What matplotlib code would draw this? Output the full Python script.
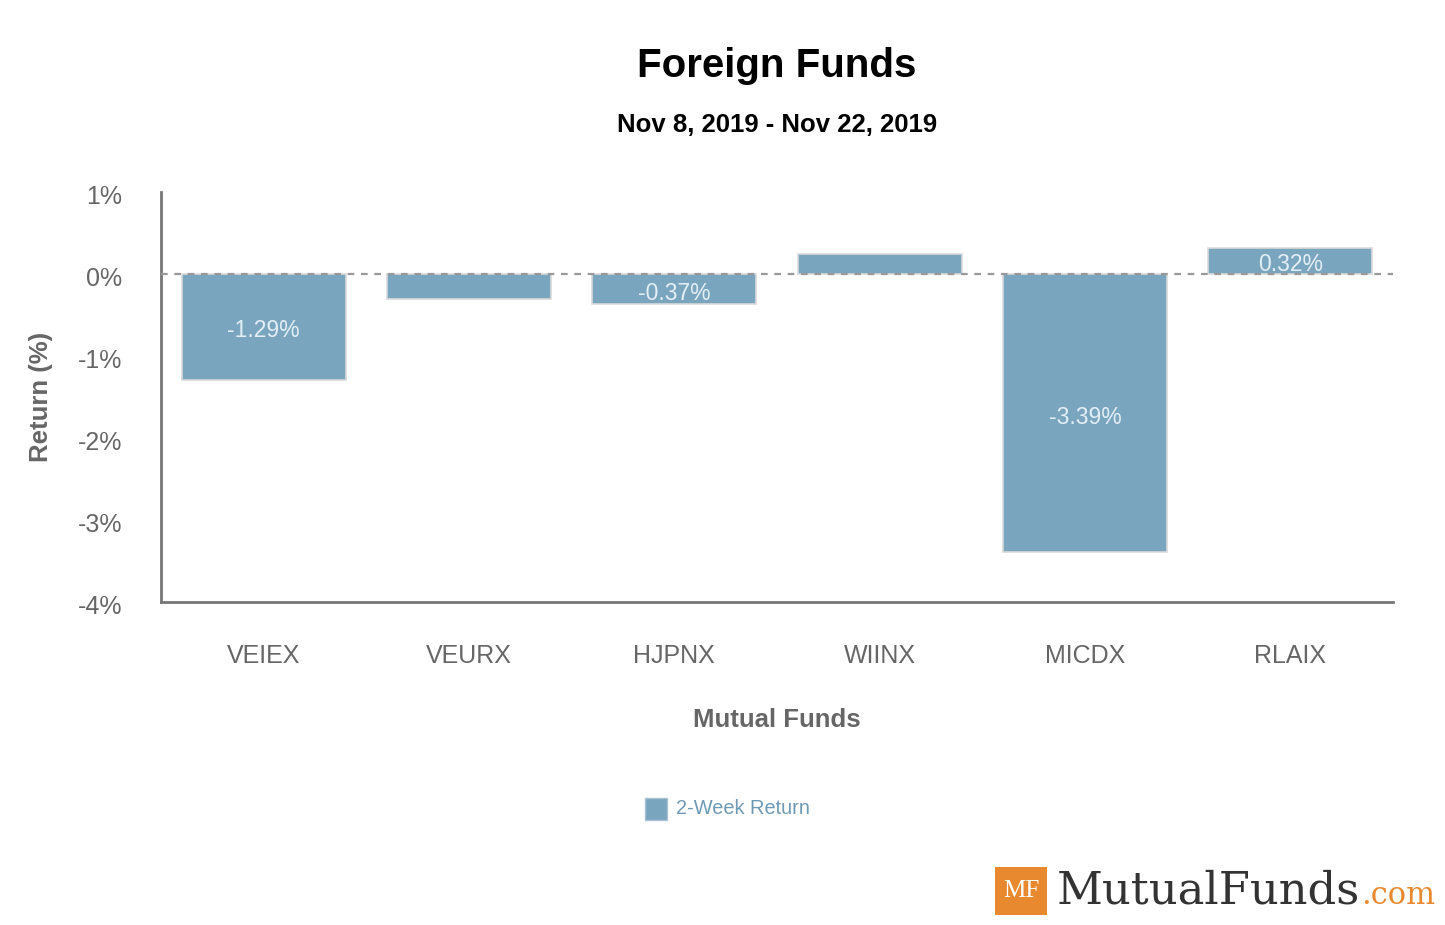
import matplotlib.pyplot as plt
from matplotlib.patches import Rectangle
from matplotlib.transforms import ScaledTranslation

funds = ["VEIEX", "VEURX", "HJPNX", "WIINX", "MICDX", "RLAIX"]
returns = [-1.29, -0.30, -0.37, 0.24, -3.39, 0.32]
bar_labels = ["-1.29%", None, "-0.37%", None, "-3.39%", "0.32%"]
yticks = [1, 0, -1, -2, -3, -4]

plt.rcParams['font.family'] = ['Liberation Sans', 'DejaVu Sans']

fig = plt.figure(figsize=(14.45, 9.25), dpi=100)
ax = fig.add_axes([161 / 1445, 1 - 602 / 925, (1393 - 161) / 1445, (602 - 192) / 925])

bar_color = "#79a5bf"
x = list(range(len(funds)))
ax.bar(x, returns, width=0.8, color=bar_color, edgecolor="#d9d9d9", linewidth=1.2, zorder=2)
ax.axhline(0, color="#999999", linestyle=(0, (3, 3)), linewidth=1.6, zorder=3)

for xi, v, lab in zip(x, returns, bar_labels):
    if lab is None:
        continue
    ax.text(xi, v / 2 - 0.05, lab, ha="center", va="center", fontsize=16.5,
            color="#e4eef6", zorder=4)

ax.set_xlim(-0.5, len(funds) - 0.5)
ax.set_ylim(-4, 1)
ax.set_yticks(yticks)
ax.set_yticklabels([f"{t}%" for t in yticks])
ax.set_xticks(x)
ax.set_xticklabels(funds)
ax.tick_params(axis="both", length=0, labelsize=18, labelcolor="#666666")
ax.tick_params(axis="y", pad=28)
ax.tick_params(axis="x", pad=30)
shift = ScaledTranslation(0, -3 / 100, fig.dpi_scale_trans)
for lbl in ax.get_yticklabels():
    lbl.set_transform(lbl.get_transform() + shift)

for s in ["top", "right"]:
    ax.spines[s].set_visible(False)
ax.spines["left"].set_color("#777777")
ax.spines["bottom"].set_color("#777777")
ax.spines["left"].set_linewidth(2)
ax.spines["bottom"].set_linewidth(2)

ax.set_ylabel("Return (%)", fontsize=18.5, fontweight="bold", color="#666666", labelpad=18)
ax.set_xlabel("Mutual Funds", fontsize=18.5, fontweight="bold", color="#666666", labelpad=29)

fig.text(777 / 1445, 1 - 66 / 925, "Foreign Funds", ha="center", va="center",
         fontsize=29, fontweight="bold", color="#000000")
fig.text(777 / 1445, 1 - 125 / 925, "Nov 8, 2019 - Nov 22, 2019", ha="center", va="center",
         fontsize=18.5, fontweight="bold", color="#000000")

# legend
fig.patches.append(Rectangle((645 / 1445, 1 - 820 / 925), 22 / 1445, 22 / 925,
                             transform=fig.transFigure, facecolor=bar_color,
                             edgecolor="#aac2d3", linewidth=1))
fig.text(676 / 1445, 1 - 808 / 925, "2-Week Return", ha="left", va="center",
         fontsize=14.4, color="#6f9ab6")

# logo
fig.patches.append(Rectangle((995 / 1445, 1 - 915 / 925), 52 / 1445, 48 / 925,
                             transform=fig.transFigure, facecolor="#e8892f",
                             edgecolor="none"))
fig.text(1021 / 1445, 1 - 891 / 925, "MF", ha="center", va="center",
         fontsize=18, color="white", family="Liberation Serif")
fig.text(1057 / 1445, 1 - 891 / 925, "MutualFunds", ha="left", va="center",
         fontsize=32.3, color="#333333", family="DejaVu Serif")
fig.text(1361 / 1445, 1 - 896 / 925, ".com", ha="left", va="center",
         fontsize=22, color="#e8892f", family="DejaVu Serif")

fig.savefig("out.png", dpi=100, facecolor="white")
